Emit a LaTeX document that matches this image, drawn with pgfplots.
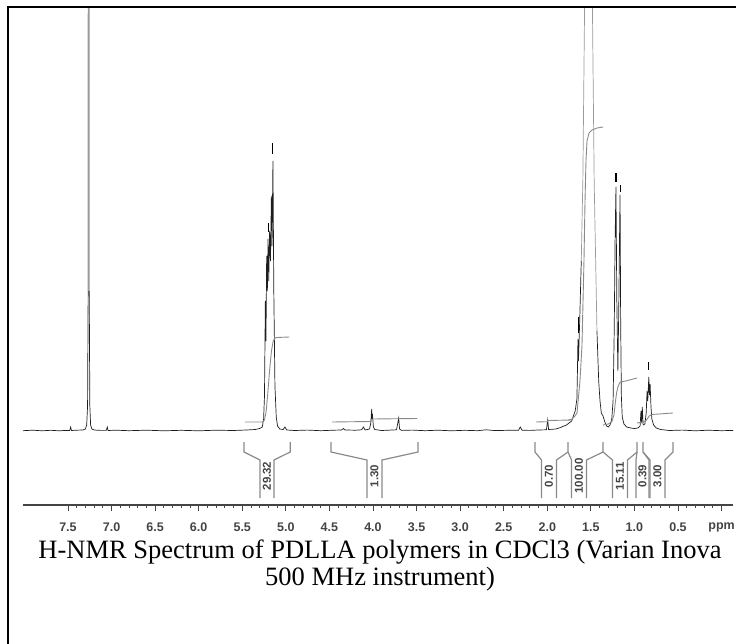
\documentclass[border=0pt]{standalone}
\usepackage{pgfplots}
\pgfplotsset{compat=1.18}
\usepackage{fontspec}
\setmainfont{Liberation Serif}
\setsansfont{Liberation Sans}
\definecolor{intg}{HTML}{8A8A8A}
\definecolor{tickc}{HTML}{444444}
\definecolor{specc}{HTML}{1E1E1E}
\definecolor{tallc}{HTML}{9A9A9A}
\begin{document}
\begin{tikzpicture}[x=1pt,y=1pt]
\useasboundingbox (0,0) rectangle (736,643);
\begin{axis}[
  at={(23pt,138pt)}, anchor=south west,
  scale only axis, width=710pt, height=498pt,
  xmin=-0.131, xmax=8.016, ymin=-74, ymax=424,
  x dir=reverse,
  axis x line=bottom, axis y line=none,
  x axis line style={-, line width=1.1pt, color=tickc},
  xtick={0,0.5,1,1.5,2,2.5,3,3.5,4,4.5,5,5.5,6,6.5,7,7.5},
  xticklabels={ppm,0.5,1.0,1.5,2.0,2.5,3.0,3.5,4.0,4.5,5.0,5.5,6.0,6.5,7.0,7.5},
  minor x tick num=4,
  tick align=outside,
  major tick length=6pt, minor tick length=3pt,
  tick style={line width=0.9pt, color=tickc},
  xticklabel style={font=\fontsize{12.5}{14}\selectfont\sffamily\bfseries, text=tickc, yshift=-8.5pt},
]
% spectrum (dark parts)
\addplot[specc, line width=0.7pt] coordinates {
(8.02,0.3) (7.90,0.8) (7.80,0.2) (7.70,0.7) (7.60,0.2) (7.52,0.6) (7.48,0.5) (7.469,4) (7.46,0.5) (7.40,0.8) (7.33,1) (7.30,2) (7.285,6) (7.275,25) (7.268,140)
};
\addplot[tallc, line width=1.0pt] coordinates {(7.268,140) (7.264,1500) (7.258,1500) (7.256,140)};
\addplot[specc, line width=0.7pt] coordinates {
(7.256,140) (7.249,25) (7.24,6) (7.225,2) (7.20,1) (7.12,0.6) (7.06,0.6) (7.049,4) (7.04,0.5) (6.95,0.8) (6.80,0.3) (6.60,0.8) (6.40,0.2) (6.20,0.7) (6.00,0.2) (5.80,0.8) (5.60,0.5) (5.45,1) (5.35,1.5) (5.30,2.5) (5.27,4) (5.255,12) (5.245,35) (5.235,130) (5.228,90) (5.22,175) (5.212,140) (5.204,192) (5.196,150) (5.186,200) (5.176,170) (5.166,235) (5.158,185) (5.148,270) (5.138,140) (5.125,45) (5.11,14) (5.095,5) (5.07,2) (5.03,1.5) (5.01,4) (4.99,1) (4.90,0.5) (4.75,0.9) (4.60,0.3) (4.45,0.8) (4.36,1) (4.34,2.5) (4.32,1) (4.20,0.8) (4.13,1.2) (4.11,4) (4.09,1) (4.04,2) (4.025,8) (4.015,22) (4.01,12) (4.005,15) (3.995,4) (3.98,1.5) (3.90,0.5) (3.80,0.9) (3.73,1.2) (3.705,13) (3.695,2) (3.67,0.6) (3.55,0.9) (3.40,0.3) (3.25,0.8) (3.10,0.2) (2.95,0.7) (2.80,0.3) (2.70,1.2) (2.60,0.4) (2.45,0.7) (2.33,0.8) (2.31,4) (2.29,0.8) (2.20,0.6) (2.10,1) (2.01,1.2) (1.995,11) (1.985,1.5) (1.90,2) (1.85,3.5) (1.78,6) (1.72,10) (1.68,20) (1.66,32) (1.655,55) (1.648,92) (1.642,70) (1.636,88) (1.628,110) (1.61,170)
};
\addplot[tallc, line width=0.7pt] coordinates {(1.61,170) (1.592,250) (1.572,424) (1.568,1500)};
\addplot[tallc, line width=0.7pt] coordinates {(1.484,1500) (1.482,424) (1.462,250) (1.43,100)};
\addplot[specc, line width=0.7pt] coordinates {
(1.43,100) (1.41,50) (1.395,30) (1.38,18) (1.36,15) (1.34,9) (1.32,5) (1.30,4) (1.28,6) (1.26,12) (1.245,30) (1.232,100) (1.222,190) (1.212,244) (1.202,130) (1.19,60) (1.18,120) (1.17,200) (1.165,236) (1.158,110) (1.15,35) (1.14,14) (1.12,7) (1.09,4) (1.04,3) (1.00,2.5) (0.96,3) (0.935,5) (0.925,20) (0.918,8) (0.91,24) (0.90,6) (0.88,7) (0.865,18) (0.855,40) (0.847,30) (0.835,54) (0.828,36) (0.82,47) (0.81,24) (0.80,12) (0.78,6) (0.75,3) (0.70,1.5) (0.60,0.5) (0.45,0.9) (0.30,0.2) (0.15,0.8) (0.00,0.3) (-0.14,0.6)
};
% peak markers
\addplot[black, line width=1.1pt] coordinates {(5.204,199) (5.204,208)};
\addplot[black, line width=1.1pt] coordinates {(5.148,277) (5.148,288)};
\addplot[black, line width=1.1pt] coordinates {(1.647,98) (1.647,114)};
\addplot[black, line width=1.1pt] coordinates {(1.212,249) (1.212,258)};
\addplot[black, line width=1.1pt] coordinates {(1.165,239) (1.165,246)};
\addplot[black, line width=1.1pt] coordinates {(0.835,61) (0.835,69)};
% integrals
\addplot[intg, line width=0.9pt] coordinates {(5.47,9) (5.27,9) (5.245,11) (5.225,20) (5.205,40) (5.185,62) (5.165,80) (5.145,90) (5.125,93) (5.10,93.5) (4.96,94)};
\addplot[intg, line width=0.9pt] coordinates {(4.47,9) (4.03,9.5) (4.015,11.5) (4.00,12) (3.49,12.5)};
\addplot[intg, line width=0.9pt] coordinates {(2.13,9) (2.00,9.3) (1.99,10.5) (1.72,11)};
\addplot[intg, line width=0.9pt] coordinates {(1.76,11) (1.716,12) (1.682,15) (1.659,18) (1.625,50) (1.602,85) (1.579,170) (1.567,230) (1.556,270) (1.544,290) (1.521,298) (1.487,301) (1.429,303) (1.36,304)};
\addplot[intg, line width=0.9pt] coordinates {(1.36,6) (1.30,7) (1.26,9) (1.235,16) (1.22,28) (1.205,38) (1.19,44) (1.17,48) (1.16,49) (1.10,50) (0.97,53)};
\addplot[intg, line width=0.9pt] coordinates {(0.97,8) (0.90,9)};
\addplot[intg, line width=0.9pt] coordinates {(0.90,9) (0.87,10) (0.85,12.5) (0.83,15) (0.80,16.5) (0.56,18)};
% integration brackets
\addplot[intg, line width=1.2pt] coordinates {(5.48,-11) (5.48,-21) (5.297,-29) (5.297,-67)};
\addplot[intg, line width=1.2pt] coordinates {(4.95,-11) (4.95,-21) (5.136,-29) (5.136,-67)};
\addplot[intg, line width=1.2pt] coordinates {(4.482,-11) (4.482,-21) (4.069,-29) (4.069,-67)};
\addplot[intg, line width=1.2pt] coordinates {(3.483,-11) (3.483,-21) (3.897,-29) (3.897,-67)};
\addplot[intg, line width=1.2pt] coordinates {(2.141,-11) (2.141,-21) (2.066,-29) (2.066,-67)};
\addplot[intg, line width=1.2pt] coordinates {(1.762,-11) (1.762,-21) (1.894,-29) (1.894,-67)};
\addplot[intg, line width=1.2pt] coordinates {(1.762,-21) (1.722,-29) (1.722,-67)};
\addplot[intg, line width=1.2pt] coordinates {(1.360,-11) (1.360,-21) (1.550,-29) (1.550,-67)};
\addplot[intg, line width=1.2pt] coordinates {(1.360,-21) (1.252,-29) (1.252,-67)};
\addplot[intg, line width=1.2pt] coordinates {(0.970,-11) (0.970,-21) (1.079,-29) (1.079,-67)};
\addplot[intg, line width=1.2pt] coordinates {(0.970,-21) (0.982,-29) (0.982,-67)};
\addplot[intg, line width=1.2pt] coordinates {(0.901,-11) (0.901,-21) (0.833,-29) (0.833,-67)};
\addplot[intg, line width=1.2pt] coordinates {(0.901,-21) (0.821,-29) (0.821,-67)};
\addplot[intg, line width=1.2pt] coordinates {(0.557,-11) (0.557,-21) (0.649,-29) (0.649,-67)};
% integral values
\begin{scope}[every node/.style={rotate=90, font=\fontsize{11.5}{13}\selectfont\sffamily\bfseries, text=tickc, inner sep=0pt}]
\node at (axis cs:5.216,-45) {29.32};
\node at (axis cs:3.983,-45) {1.30};
\node at (axis cs:1.980,-45) {0.70};
\node at (axis cs:1.636,-45) {100.00};
\node at (axis cs:1.165,-45) {15.11};
\node at (axis cs:0.907,-45) {0.39};
\node at (axis cs:0.735,-45) {3.00};
\end{scope}
\end{axis}
\draw[line width=2pt] (8.3,-20) -- (8.3,636.3) -- (760,636.3);
\node[anchor=base, font=\fontsize{26.5}{30}\selectfont] at (380,85) {H-NMR Spectrum of PDLLA polymers in CDCl3 (Varian Inova};
\node[anchor=base, font=\fontsize{26.5}{30}\selectfont] at (380,58) {500 MHz instrument)};
\end{tikzpicture}
\end{document}
